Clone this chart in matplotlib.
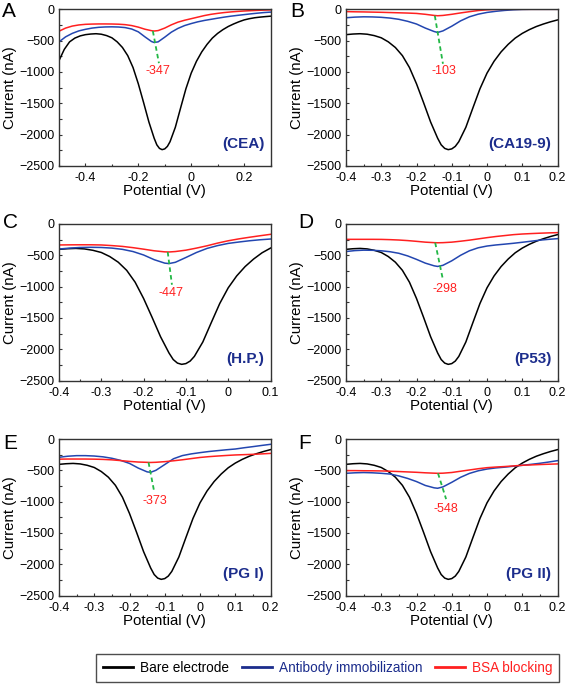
import matplotlib
matplotlib.use("Agg")
import matplotlib.pyplot as plt
from matplotlib.ticker import MultipleLocator, FuncFormatter
from matplotlib.lines import Line2D

plt.rcParams['font.family'] = ['Liberation Sans', 'DejaVu Sans']

# potential grid (V) used for antibody / BSA curves
GRID = [-0.400, -0.375, -0.350, -0.325, -0.300, -0.275, -0.250, -0.225, -0.200,
        -0.175, -0.150, -0.140, -0.125, -0.100, -0.075, -0.050, -0.025, 0.000,
        0.025, 0.050, 0.075, 0.100, 0.125, 0.150, 0.175, 0.200]
GRID_A = [-0.500, -0.475, -0.450, -0.425] + GRID + [0.225, 0.250, 0.275, 0.300]
GRID_C = GRID[:22]

# bare electrode, same in every panel
BARE_V = [-0.50, -0.48, -0.46, -0.44, -0.42, -0.40, -0.38, -0.36, -0.34, -0.32,
          -0.30, -0.28, -0.26, -0.24, -0.22, -0.20, -0.18, -0.16, -0.14, -0.13,
          -0.12, -0.11, -0.10, -0.09, -0.08, -0.06, -0.04, -0.02, 0.00, 0.02,
          0.04, 0.06, 0.08, 0.10, 0.12, 0.14, 0.16, 0.18, 0.20, 0.22, 0.24,
          0.26, 0.28, 0.30]
BARE_I = [-820, -640, -520, -460, -425, -405, -395, -390, -398, -420,
          -455, -520, -610, -740, -930, -1190, -1490, -1800, -2060, -2165,
          -2222, -2242, -2230, -2190, -2115, -1885, -1575, -1270, -1020, -830,
          -680, -560, -460, -385, -325, -275, -235, -200, -170, -150, -135,
          -125, -117, -110]

# antibody immobilization (blue)
AB_A = [-520, -440, -385, -345, -320, -300, -288, -282, -280, -283, -292, -315, -360,
        -440, -515, -530, -520, -445, -365, -305, -260, -228, -200, -178, -160,
        -142, -125, -110, -97, -85, -73, -62, -52, -45]
AB_B = [-135, -125, -120, -122, -128, -140, -160, -192, -235, -300, -355, -370, -345,
        -270, -185, -120, -78, -50, -32, -18, -8, -2, 0, 0, 0, 0]
AB_C = [-400, -385, -375, -372, -375, -385, -405, -440, -495, -570, -625, -632, -612,
        -535, -455, -390, -345, -310, -288, -268, -252, -240]
AB_D = [-440, -425, -418, -420, -428, -443, -468, -510, -565, -625, -668, -678, -660,
        -588, -500, -428, -380, -352, -335, -322, -308, -292, -275, -258, -245, -234]
AB_E = [-292, -275, -266, -266, -272, -285, -308, -342, -390, -465, -525, -532, -500,
        -408, -315, -265, -238, -218, -200, -186, -172, -160, -140, -122, -103, -85]
AB_F = [-548, -540, -536, -540, -548, -560, -590, -630, -680, -742, -780, -787, -765,
        -692, -612, -550, -508, -480, -462, -450, -435, -420, -405, -388, -368, -346]

# BSA blocking (red)
BSA_A = [-350, -300, -268, -250, -240, -236, -234, -234, -235, -238, -245, -260, -285,
         -318, -342, -347, -340, -300, -248, -205, -175, -150, -125, -100, -80,
         -65, -52, -42, -34, -27, -22, -17, -13, -10]
BSA_B = [-37, -40, -42, -45, -48, -52, -56, -60, -66, -80, -98, -103, -98,
         -80, -58, -38, -20, -8, -2, 0, 0, 0, 0, 0, 0, 0]
BSA_C = [-335, -333, -332, -332, -335, -345, -358, -378, -402, -428, -445, -447, -440,
         -418, -385, -348, -305, -268, -238, -212, -188, -165]
BSA_D = [-245, -245, -245, -245, -246, -250, -256, -265, -277, -290, -298, -300, -298,
         -290, -275, -258, -238, -218, -200, -185, -170, -160, -153, -147, -142, -138]
BSA_E = [-322, -320, -320, -320, -322, -326, -333, -345, -358, -368, -373, -375, -372,
         -362, -348, -332, -313, -295, -282, -272, -263, -255, -250, -245, -238, -230]
BSA_F = [-505, -505, -507, -508, -510, -515, -520, -526, -532, -540, -546, -548, -546,
         -535, -515, -495, -475, -458, -448, -440, -430, -420, -414, -408, -403, -398]

LETTERS = ['A', 'B', 'C', 'D', 'E', 'F']
TARGETS = ['(CEA)', '(CA19-9)', '(H.P.)', '(P53)', '(PG I)', '(PG II)']
PEAKS = ['-347', '-103', '-447', '-298', '-373', '-548']
GUIDE_V = [(-0.145, -0.122), (-0.148, -0.125), (-0.143, -0.133),
           (-0.147, -0.125), (-0.146, -0.130), (-0.139, -0.116)]
GUIDE_I = [(-347, -860), (-103, -870), (-447, -970),
           (-298, -890), (-373, -840), (-548, -960)]
LABEL_POS = [(-0.125, -985), (-0.122, -985), (-0.136, -1095),
             (-0.120, -1045), (-0.127, -995), (-0.116, -1125)]
XLIMS = [(-0.5, 0.3), (-0.4, 0.2), (-0.4, 0.1), (-0.4, 0.2), (-0.4, 0.2), (-0.4, 0.2)]

grids = [GRID_A, GRID, GRID_C, GRID, GRID, GRID]
ab = [AB_A, AB_B, AB_C, AB_D, AB_E, AB_F]
bsa = [BSA_A, BSA_B, BSA_C, BSA_D, BSA_E, BSA_F]

BLACK = '#000000'
BLUE = '#2346b0'
RED = '#ff2020'
NAVY = '#1c2d8c'
GREEN = '#22b845'

fig = plt.figure(figsize=(5.67, 6.84), dpi=100)
W, H = 567, 684
lefts = [59, 346]
tops = [9.3, 224, 439]
ax_w = 211.5
ax_h = 156.5

letter_pos = [(2, 2), (290, 2), (3, 213), (298, 213), (3, 434), (298, 434)]


def fmt(v, pos):
    v = round(v, 2)
    if v == 0:
        return '0'
    return '{:g}'.format(v)


for i in range(6):
    r, c = divmod(i, 2)
    ax = fig.add_axes([lefts[c] / W, 1 - (tops[r] + ax_h) / H, ax_w / W, ax_h / H])
    ax.plot(BARE_V, BARE_I, color=BLACK, lw=1.1)
    ax.plot(grids[i], ab[i], color=BLUE, lw=1.1)
    ax.plot(grids[i], bsa[i], color=RED, lw=1.1)
    ax.plot(GUIDE_V[i], GUIDE_I[i], color=GREEN, lw=1.3, linestyle=(0, (2.5, 1.8)))
    ax.text(LABEL_POS[i][0], LABEL_POS[i][1], PEAKS[i], color=RED, fontsize=9,
            ha='center', va='center')
    ax.text(0.97, 0.14, TARGETS[i], transform=ax.transAxes, color=NAVY,
            fontsize=11, fontweight='bold', ha='right', va='center')

    ax.set_xlim(*XLIMS[i])
    ax.set_ylim(-2500, 0)
    if i == 0:
        ax.xaxis.set_major_locator(MultipleLocator(0.2))
        ax.xaxis.set_minor_locator(MultipleLocator(0.1))
    else:
        ax.xaxis.set_major_locator(MultipleLocator(0.1))
        ax.xaxis.set_minor_locator(MultipleLocator(0.05))
    ax.yaxis.set_major_locator(MultipleLocator(500))
    ax.yaxis.set_minor_locator(MultipleLocator(250))
    ax.xaxis.set_major_formatter(FuncFormatter(fmt))
    ax.tick_params(which='both', direction='in', labelsize=9, width=0.8,
                   color='#333333')
    ax.tick_params(which='major', length=2.5)
    ax.tick_params(which='minor', length=1.8)
    ax.tick_params(axis='x', pad=4.5)
    ax.tick_params(axis='y', pad=3)
    for s in ax.spines.values():
        s.set_linewidth(1.0)
        s.set_color('#333333')

    ax.set_xlabel('Potential (V)', fontsize=10.8)
    ax.set_ylabel('Current (nA)', fontsize=10.8)
    ax.xaxis.set_label_coords(0.5, -0.118)
    ax.yaxis.set_label_coords(-0.200, 0.5)

    lx, ly = letter_pos[i]
    fig.text(lx / W, 1 - ly / H, LETTERS[i], fontsize=15, ha='left', va='top')

handles = [Line2D([], [], color=BLACK, lw=2),
           Line2D([], [], color=NAVY, lw=2),
           Line2D([], [], color=RED, lw=2)]
leg = fig.legend(handles, ['Bare electrode', 'Antibody immobilization', 'BSA blocking'],
                 loc='lower right', bbox_to_anchor=(559 / W, 1 - 682 / H),
                 ncol=3, fontsize=9.8, frameon=True, fancybox=False,
                 edgecolor='#222222', handlelength=2.2, handletextpad=0.5,
                 columnspacing=0.95, borderpad=0.5, borderaxespad=0)
leg.get_frame().set_linewidth(1.0)
for t, col in zip(leg.get_texts(), [BLACK, NAVY, RED]):
    t.set_color(col)

fig.savefig('out.png', dpi=100)
